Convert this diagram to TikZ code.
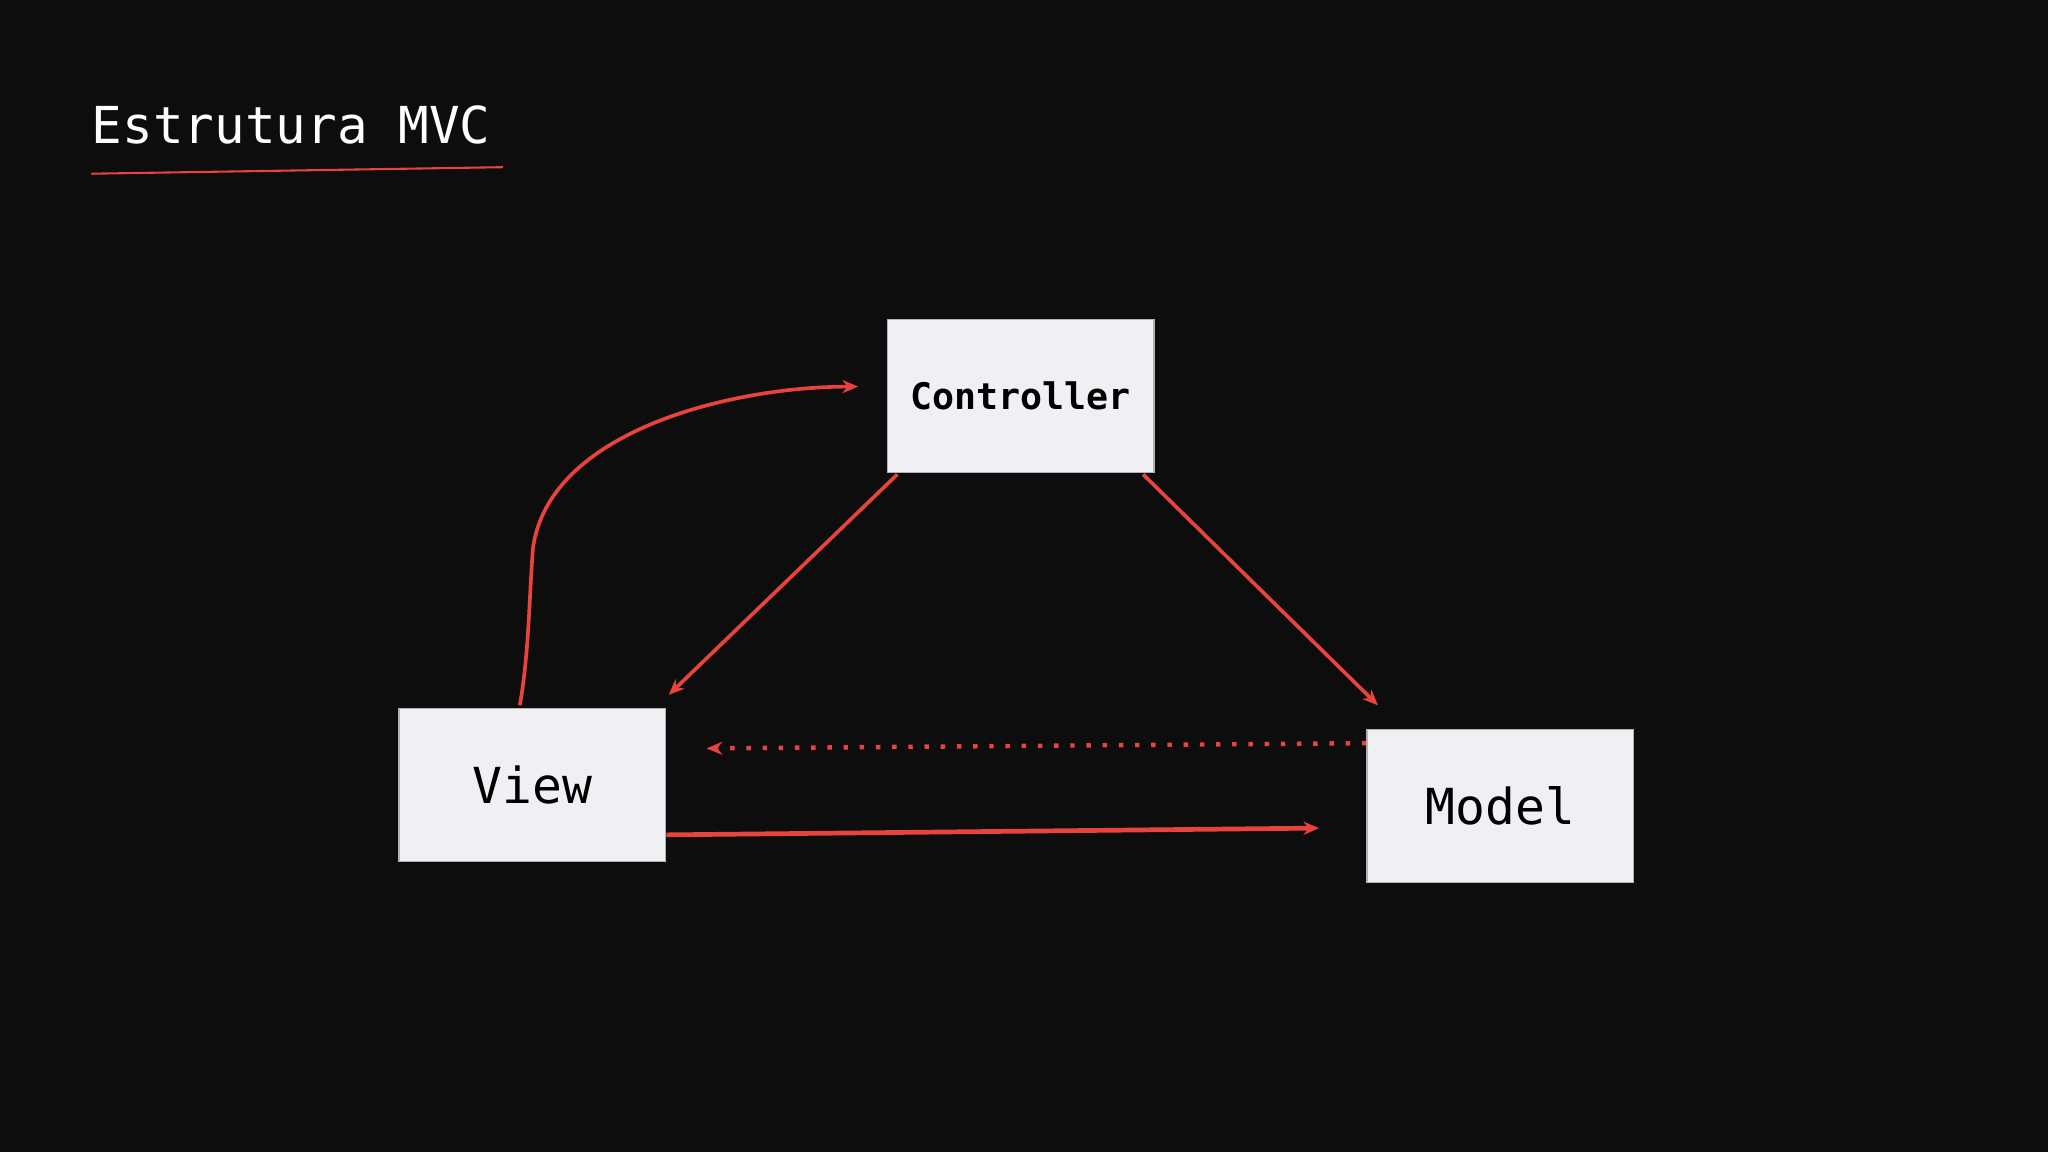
\documentclass[tikz,border=0pt]{standalone}
\usepackage{fontspec}
\setmonofont{DejaVu Sans Mono}
\usetikzlibrary{arrows.meta}
\definecolor{bg}{HTML}{0D0D0D}
\definecolor{boxfill}{HTML}{F0EFF3}
\definecolor{redl}{HTML}{E8433D}
\tikzset{
  box/.style={draw=gray!60,line width=1.2pt,fill=boxfill,minimum width=204pt,minimum height=117pt,inner sep=0pt,font=\ttfamily},
  link/.style={draw=redl,line width=2.8pt,-{Stealth[length=12pt,width=10pt]}},
}
\begin{document}
\begin{tikzpicture}[x=1pt,y=-1pt]
\fill[bg] (0,0) rectangle (1568,882);
\useasboundingbox (0,0) rectangle (1568,882);
\node[anchor=base west,text=white,font=\ttfamily\fontsize{39}{41}\selectfont,inner sep=0pt] (title) at (70,110) {Estrutura MVC};
\coordinate (ul1) at (70,133);
\coordinate (ul2) at (385,128);
\draw[redl,line width=1.6pt] (ul1) -- (ul2);
\node[box,anchor=north west,font=\ttfamily\bfseries\fontsize{28}{30}\selectfont] (ctrl) at (679,244) {Controller};
\node[box,anchor=north west,font=\ttfamily\fontsize{38}{40}\selectfont] (view) at (305,542) {View};
\node[box,anchor=north west,font=\ttfamily\fontsize{38}{40}\selectfont] (model) at (1046,558) {Model};
\coordinate (c1) at (512,532);
\coordinate (c2) at (1055,540);
\coordinate (c3) at (657,296);
\coordinate (d1) at (541,573);
\coordinate (e1) at (1010,634);
\draw[link] ([xshift=8pt,yshift=-1pt]ctrl.south west) -- (c1);
\draw[link] ([xshift=-9pt,yshift=-1pt]ctrl.south east) -- (c2);
\draw[link] ([xshift=93pt,yshift=2pt]view.north west) .. controls (405,500) and (405,460) .. (408,420) .. controls (420,330) and (560,296) .. (c3);
\draw[link,line width=3.4pt,dash pattern=on 3.4pt off 9pt] ([yshift=-11pt]model.north west) -- (d1);
\draw[link,line width=3.6pt] ([yshift=21pt]view.south east) -- (e1);
\end{tikzpicture}
\end{document}
